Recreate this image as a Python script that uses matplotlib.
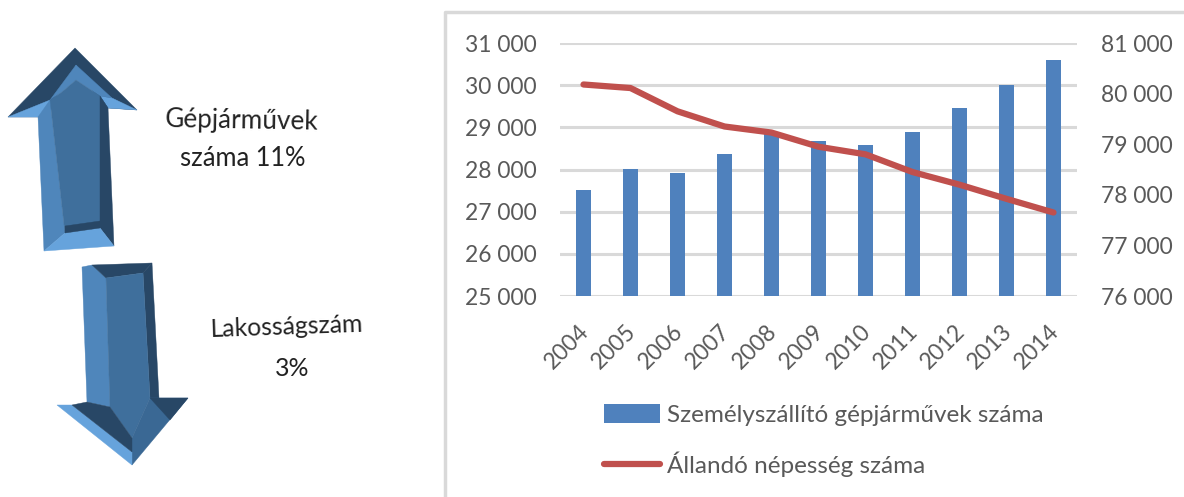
import matplotlib.pyplot as plt
from matplotlib.patches import Polygon
from matplotlib.transforms import ScaledTranslation

plt.rcParams['font.family'] = ['Lato', 'DejaVu Sans']

years = ['2004', '2005', '2006', '2007', '2008', '2009', '2010', '2011', '2012', '2013', '2014']
vehicles = [27520, 28020, 27920, 28370, 28880, 28670, 28580, 28900, 29450, 30000, 30600]
population = [80180, 80110, 79650, 79350, 79230, 78950, 78800, 78450, 78200, 77920, 77650]
left_ticks = [25000, 26000, 27000, 28000, 29000, 30000, 31000]
right_ticks = [76000, 77000, 78000, 79000, 80000, 81000]

W, H = 1184, 497
text_col = '#595959'
bar_col = '#4f81bd'
line_col = '#c0504d'
grid_col = '#d9d9d9'


def fmt(v):
    return f'{v:,}'.replace(',', ' ')


fig = plt.figure(figsize=(W / 100, H / 100), dpi=100)

# overlay in pixel coordinates for the frame and the arrows
bg = fig.add_axes([0, 0, 1, 1])
bg.set_xlim(0, W)
bg.set_ylim(H, 0)
bg.axis('off')
bg.plot([445, 445, W], [H, 12, 12], color=grid_col, lw=2.5)

dark = '#284766'
mid = '#3a6894'
main = '#3f6f9c'
light = '#66a3dc'
side = '#4f86bb'

up_arrow = [
    ([(8, 117), (75, 48), (137, 110), (108, 108), (76, 72), (38, 117)], dark),
    ([(8, 117), (50, 100), (62, 103), (38, 117)], light),
    ([(137, 110), (112, 98), (100, 96), (108, 108)], light),
    ([(76, 65), (112, 98), (100, 96), (76, 80)], side),
    ([(76, 65), (50, 100), (62, 92), (76, 80)], side),
    ([(38, 117), (50, 100), (65, 233), (44, 251)], side),
    ([(50, 100), (62, 92), (76, 80), (100, 96), (108, 108), (100, 228), (65, 233)], main),
    ([(100, 96), (108, 108), (114, 246), (100, 228)], dark),
    ([(65, 233), (100, 228), (114, 246), (44, 251)], light),
    ([(65, 226), (100, 221), (100, 228), (65, 233)], dark),
]
down_arrow = [
    ([(82, 267), (92, 265), (106, 278), (110, 407), (87, 402)], side),
    ([(92, 265), (152, 263), (143, 273), (106, 278)], dark),
    ([(143, 273), (152, 263), (159, 398), (150, 398)], dark),
    ([(106, 278), (143, 273), (150, 398), (132, 438), (110, 407)], main),
    ([(159, 398), (188, 398), (132, 465), (132, 438), (150, 398)], mid),
    ([(159, 398), (188, 398), (170, 420), (150, 398)], dark),
    ([(57, 405), (72, 405), (132, 452), (132, 465)], light),
    ([(72, 405), (87, 402), (110, 407), (132, 438), (132, 452)], dark),
]
for polys in (up_arrow, down_arrow):
    for pts, col in polys:
        bg.add_patch(Polygon(pts, closed=True, facecolor=col, edgecolor=col, lw=0.3))

# chart, same pixel span on both y axes
ax = fig.add_axes([560 / W, 1 - 296 / H, 517 / W, 253 / H])
ax.bar(years, vehicles, width=0.32, color=bar_col, label='Személyszállító gépjárművek száma', zorder=2)
ax.set_ylim(25000, 31000)
ax.set_xlim(-0.5, 10.5)
ax.set_yticks(left_ticks, [fmt(v) for v in left_ticks])
ax.grid(axis='y', color=grid_col, lw=2.2, zorder=0)
ax.set_axisbelow(True)
ax.tick_params(axis='y', length=0, pad=16.5, labelsize=16.4, labelcolor=text_col)
ax.tick_params(axis='x', length=0, pad=18, labelsize=16.4, labelcolor=text_col)
shift = ScaledTranslation(-4 / 72, 0, fig.dpi_scale_trans)
for lab in ax.get_xticklabels():
    lab.set_rotation(45)
    lab.set_ha('right')
    lab.set_rotation_mode('anchor')
    lab.set_transform(lab.get_transform() + shift)
for s in ax.spines.values():
    s.set_visible(False)
ax.patch.set_alpha(0)

ax2 = ax.twinx()
ax2.plot(years, population, color=line_col, lw=4.5, solid_capstyle='round',
         label='Állandó népesség száma', zorder=3)
ax2.set_ylim(76000, 81000)
ax2.set_yticks(right_ticks, [fmt(v) for v in right_ticks])
ax2.tick_params(axis='y', length=0, pad=17, labelsize=16.4, labelcolor=text_col)
for s in ax2.spines.values():
    s.set_visible(False)

h1, l1 = ax.get_legend_handles_labels()
h2, l2 = ax2.get_legend_handles_labels()
fig.legend(h1 + h2, l1 + l2, loc='upper left', bbox_to_anchor=(604 / W, 1 - 404 / H),
           frameon=False, fontsize=17.5, labelcolor=text_col, handlelength=2.3,
           handleheight=0.85, handletextpad=0.3, labelspacing=1.05,
           borderpad=0, borderaxespad=0)

# texts next to the arrows
bg.text(242, 121, 'Gépjárművek', ha='center', va='center', fontsize=18.8, color='#222222', rotation=-1)
bg.text(243, 158, 'száma 11%', ha='center', va='center', fontsize=18.4, color='#222222')
bg.text(287, 327, 'Lakosságszám', ha='center', va='center', fontsize=17.9, color='#222222', rotation=2)
bg.text(292, 369, '3%', ha='center', va='center', fontsize=17.9, color='#222222')

fig.savefig('out.png', dpi=100)
